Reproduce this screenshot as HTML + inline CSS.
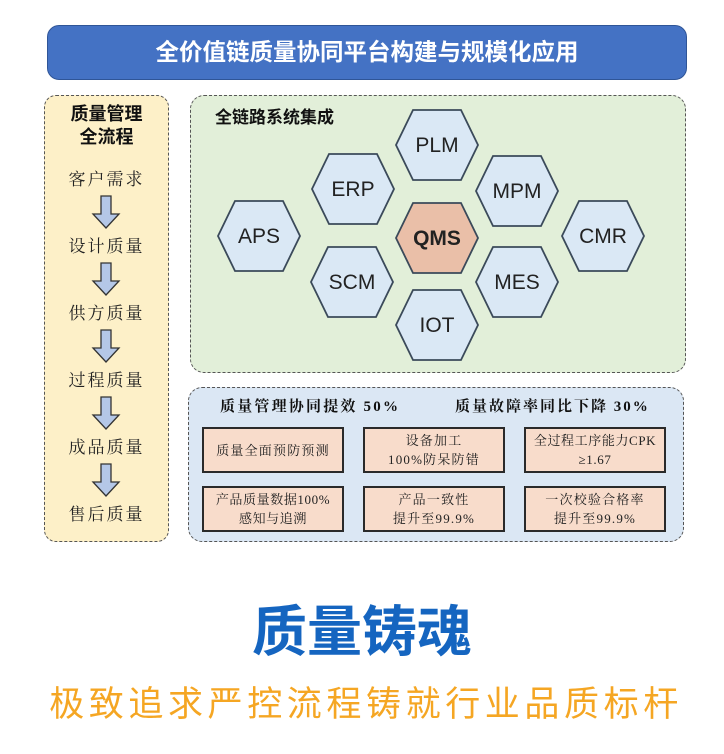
<!DOCTYPE html>
<html><head><meta charset="utf-8"><style>
body{margin:0;width:724px;height:754px;background:#fff;position:relative;font-family:"Liberation Sans","Noto Sans CJK SC",sans-serif;overflow:hidden}
.a{position:absolute}
.serif{font-family:"Liberation Serif","Noto Serif CJK SC",serif}
.box{position:absolute;background:#f8dccb;border:2px solid #2a2a2a;box-sizing:border-box;display:flex;align-items:center;justify-content:center;text-align:center;font-size:13px;line-height:19px;color:#222;letter-spacing:1.2px}
.step{position:absolute;left:44px;width:125px;text-align:center;font-size:17px;letter-spacing:2px;color:#222}
</style></head><body>
<div class="a" style="left:47px;top:25px;width:640px;height:55px;background:#4472c4;border-radius:12px;border:1px solid #2f5597;box-sizing:border-box;color:#fff;font-size:23.5px;font-weight:bold;text-align:center;line-height:53px">全价值链质量协同平台构建与规模化应用</div>

<div class="a" style="left:44px;top:95px;width:125px;height:447px;background:#fdf0c8;border:1.5px dashed #555;border-radius:12px;box-sizing:border-box"></div>
<div class="a" style="left:44px;top:103px;width:125px;text-align:center;font-size:18px;font-weight:bold;line-height:23px;color:#111">质量管理<br>全流程</div>
<div class="step serif" style="top:165px">客户需求</div>
<div class="step serif" style="top:232px">设计质量</div>
<div class="step serif" style="top:299px">供方质量</div>
<div class="step serif" style="top:366px">过程质量</div>
<div class="step serif" style="top:433px">成品质量</div>
<div class="step serif" style="top:500px">售后质量</div>
<svg class="a" style="left:0;top:0" width="200" height="560">
<g fill="#b4c7e7" stroke="#333" stroke-width="1.3">
<path d="M101,196 h10 v18 h8 l-13,14 l-13,-14 h8z"/>
<path d="M101,263 h10 v18 h8 l-13,14 l-13,-14 h8z"/>
<path d="M101,330 h10 v18 h8 l-13,14 l-13,-14 h8z"/>
<path d="M101,397 h10 v18 h8 l-13,14 l-13,-14 h8z"/>
<path d="M101,464 h10 v18 h8 l-13,14 l-13,-14 h8z"/>
</g></svg>

<div class="a" style="left:190px;top:95px;width:496px;height:278px;background:#e2efd9;border:1.5px dashed #555;border-radius:14px;box-sizing:border-box"></div>
<div class="a" style="left:215px;top:103px;font-size:17px;font-weight:bold;color:#111">全链路系统集成</div>
<svg class="a" style="left:0;top:0" width="724" height="380" font-family="Liberation Sans, sans-serif" font-size="21" text-anchor="middle">
<defs><path id="h" d="M-41,0 L-24,-35 L24,-35 L41,0 L24,35 L-24,35Z"/></defs>
<g stroke="#3b4a5a" stroke-width="1.8" fill="#dae8f5">
<use href="#h" x="437" y="145"/><use href="#h" x="353" y="189"/><use href="#h" x="517" y="191"/>
<use href="#h" x="259" y="236"/><use href="#h" x="603" y="236"/>
<use href="#h" x="352" y="282"/><use href="#h" x="517" y="282"/><use href="#h" x="437" y="325"/>
<use href="#h" x="437" y="238" fill="#eabfa8"/>
</g>
<g fill="#222">
<text x="437" y="152">PLM</text><text x="353" y="196">ERP</text><text x="517" y="198">MPM</text>
<text x="259" y="243">APS</text><text x="603" y="243">CMR</text>
<text x="352" y="289">SCM</text><text x="517" y="289">MES</text><text x="437" y="332">IOT</text>
<text x="437" y="245" font-weight="bold">QMS</text>
</g></svg>

<div class="a" style="left:188px;top:387px;width:496px;height:155px;background:#dbe7f4;border:1.5px dashed #555;border-radius:14px;box-sizing:border-box"></div>
<div class="a serif" style="left:220px;top:395px;font-size:15px;font-weight:bold;color:#111;letter-spacing:2.2px">质量管理协同提效 50%</div>
<div class="a serif" style="left:455px;top:395px;font-size:15px;font-weight:bold;color:#111;letter-spacing:2px">质量故障率同比下降 30%</div>
<div class="box serif" style="left:202px;top:427px;width:142px;height:46px">质量全面预防预测</div>
<div class="box serif" style="left:363px;top:427px;width:142px;height:46px">设备加工<br>100%防呆防错</div>
<div class="box serif" style="left:524px;top:427px;width:142px;height:46px;letter-spacing:0.6px">全过程工序能力CPK<br>≥1.67</div>
<div class="box serif" style="left:202px;top:486px;width:142px;height:46px;letter-spacing:0.6px">产品质量数据100%<br>感知与追溯</div>
<div class="box serif" style="left:363px;top:486px;width:142px;height:46px">产品一致性<br>提升至99.9%</div>
<div class="box serif" style="left:524px;top:486px;width:142px;height:46px">一次校验合格率<br>提升至99.9%</div>

<div class="a" style="left:0;top:600px;width:724px;text-align:center;font-size:55px;font-weight:bold;color:#1565c0;line-height:64px">质量铸魂</div>
<div class="a" style="left:4px;top:683px;width:724px;text-align:center;font-size:35px;letter-spacing:4.6px;color:#f5a623;line-height:44px">极致追求严控流程铸就行业品质标杆</div>
</body></html>
